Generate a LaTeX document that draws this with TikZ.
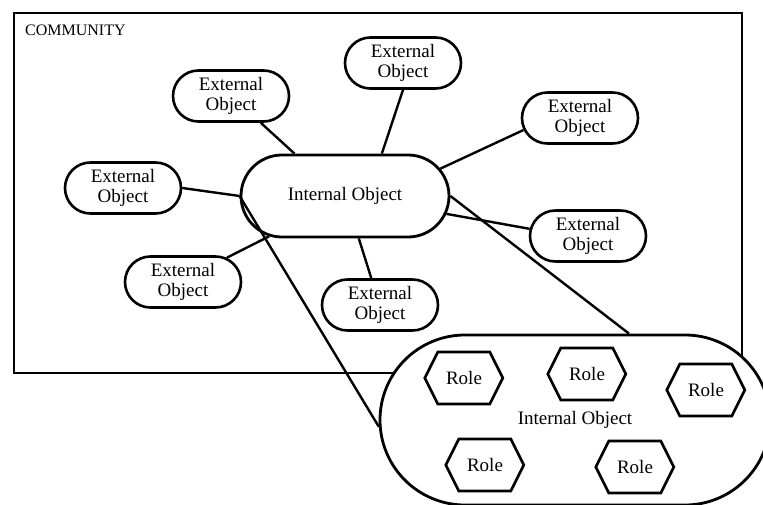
\documentclass[tikz,border=0pt]{standalone}
\usepackage{fontspec}
\setmainfont{Liberation Serif}
\usetikzlibrary{shapes.misc}

\begin{document}
\begin{tikzpicture}[x=1pt,y=-1pt]
  \tikzset{extobj/.style={rounded rectangle,draw,line width=2.6pt,fill=white,minimum width=116pt,minimum height=51pt,inner sep=0pt,align=center,font=\fontsize{19}{20.5}\selectfont}}
  \tikzset{intobj/.style={rounded rectangle,draw,line width=2.8pt,fill=white,inner sep=0pt,font=\fontsize{19}{20.5}\selectfont}}
  \tikzset{role/.style={inner sep=0pt,minimum width=78pt,minimum height=52pt,font=\fontsize{19}{20.5}\selectfont}}
  \tikzset{hex/.style={draw,line width=2.6pt,line join=miter}}
  \tikzset{link/.style={draw,line width=2.4pt}}

  \useasboundingbox (0,0) rectangle (763,505);

  % community frame
  \draw[line width=2.4pt] (14,13) rectangle (742,373);
  \node[anchor=base west,inner sep=0pt,font=\fontsize{16}{17}\selectfont] (comm) at (25,36) {COMMUNITY};

  % objects
  \node[intobj,minimum width=208pt,minimum height=82pt] (int) at (345,196) {Internal Object};
  \node[extobj] (ext1) at (231,96) {External\\Object};
  \node[extobj] (ext2) at (403,63) {External\\Object};
  \node[extobj] (ext3) at (580,118) {External\\Object};
  \node[extobj] (ext4) at (123,188) {External\\Object};
  \node[extobj] (ext5) at (183,282) {External\\Object};
  \node[extobj] (ext6) at (380,305) {External\\Object};
  \node[extobj] (ext7) at (588,236) {External\\Object};

  % zoomed internal object
  \node[intobj,minimum width=390pt,minimum height=170pt] (big) at (575,420) {Internal Object};

  \draw[link] (ext1.-42) -- (int.140);
  \draw[link] (ext2.south) -- (int.49);
  \draw[link] (ext3.192) -- (int.16);
  \draw[link] (ext4.east) -- (int.west);
  \draw[link] (ext5.29) -- (int.208);
  \draw[link] (ext6.108) -- (int.-72);
  \draw[link] (ext7.173) -- (int.-10);
  \draw[link] (int.west) -- (big.182);
  \draw[link] (int.east) -- (big.58);

  % roles
  \foreach \n/\x/\y in {role1/464/378,role2/587/374,role3/706/390,role4/485/465,role5/635/467} {
    \node[role] (\n) at (\x,\y) {Role};
    \draw[hex] (\n.west) -- ++(13,-26) -- ++(52,0) -- ++(13,26) -- ++(-13,26) -- ++(-52,0) -- cycle;
  }
\end{tikzpicture}
\end{document}
